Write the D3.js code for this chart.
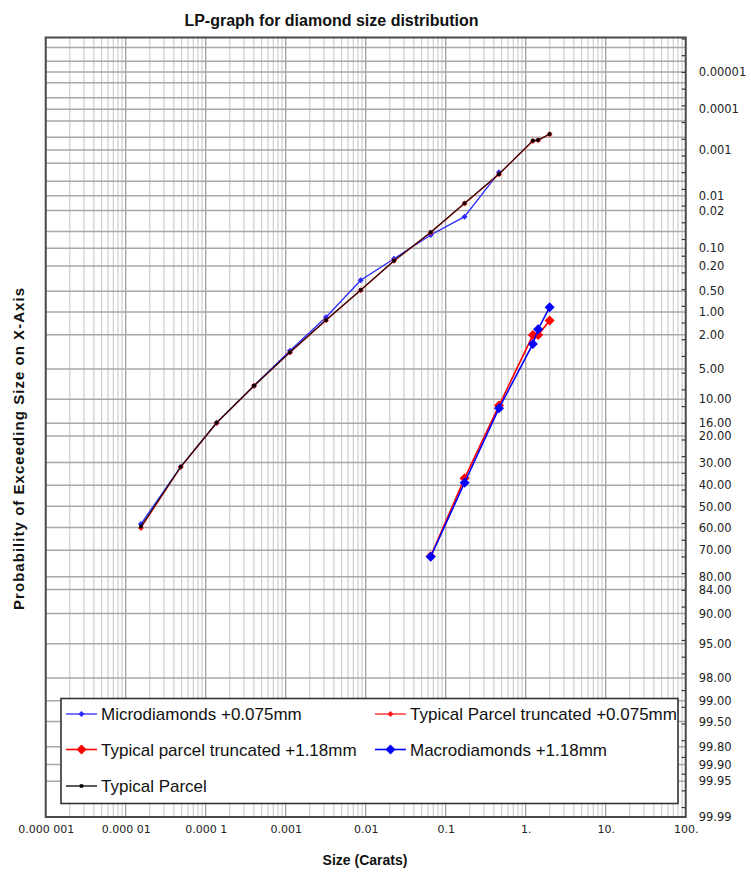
<!DOCTYPE html>
<html>
<head>
<meta charset="utf-8">
<script src="https://cdn.jsdelivr.net/npm/d3@7"></script>
<style>
html,body{margin:0;padding:0;background:#fff;}
svg{display:block;}
</style>
</head>
<body>
<script>
// ---------------- DATA ----------------
const chartTitle = "LP-graph for diamond size distribution";
const xTitle = "Size (Carats)";
const yTitle = "Probability of Exceeding Size on X-Axis";

// sizes (carats)
const sizesFull = [1.55e-5, 4.87e-5, 1.37e-4, 4.02e-4, 1.13e-3, 3.19e-3, 8.66e-3, 0.0226, 0.0649, 0.172, 0.464, 1.23, 1.43, 1.99];
const sizesMicro = [1.55e-5, 4.87e-5, 1.37e-4, 4.02e-4, 1.13e-3, 3.19e-3, 8.66e-3, 0.0226, 0.0649, 0.172, 0.464];
const sizesMacro = [0.0649, 0.172, 0.464, 1.23, 1.43, 1.99];

// probability of exceeding (percent)
const microdiamonds = [58.4, 31.8, 15.85, 7.44, 3.13, 1.18, 0.341, 0.152, 0.058, 0.0263, 0.0032];
const typicalTrunc075 = [60.2, 31.9, 15.9, 7.46, 3.27, 1.30, 0.483, 0.165, 0.0522, 0.0144, 0.0035, 0.00061, 0.00059, 0.00042];
const typicalTrunc118 = [72.5, 36.9, 11.4, 2.02, 2.02, 1.31];
const macrodiamonds = [72.7, 38.9, 12.0, 2.60, 1.70, 0.861];
const typicalParcel = [59.6, 31.8, 15.85, 7.44, 3.26, 1.29, 0.481, 0.164, 0.0519, 0.0143, 0.00348, 0.00060, 0.00058, 0.000416];

// axis ticks
const xTickValues = [1e-6, 1e-5, 1e-4, 1e-3, 1e-2, 0.1, 1, 10, 100];
const xTickLabels = ["0.000 001", "0.000 01", "0.000 1", "0.001", "0.01", "0.1", "1.", "10.", "100."];
const yTickLabels = ["0.00001","0.0001","0.001","0.01","0.02","0.10","0.20","0.50","1.00","2.00","5.00","10.00","16.00","20.00","30.00","40.00","50.00","60.00","70.00","80.00","84.00","90.00","95.00","98.00","99.00","99.50","99.80","99.90","99.95","99.99"];
const yGridPct = [0.000002,0.000005,0.00001,0.00002,0.00005,0.0001,0.0002,0.0005,0.001,0.002,0.005,0.01,0.02,0.05,0.1,0.2,0.5,1,2,5,10,16,20,30,40,50,60,70,80,84,90,95,98,99,99.5,99.8,99.9,99.95];
const yDomainPct = [0.000001, 99.99];

const seriesNames = ["Microdiamonds +0.075mm", "Typical Parcel truncated +0.075mm", "Typical parcel truncated +1.18mm", "Macrodiamonds +1.18mm", "Typical Parcel"];
const seriesColors = ["#2a2aff", "#ff1a1a", "#ff0000", "#0000ff", "#000000"];

// ---------------- helpers ----------------
function probit(p){
  const a=[-3.969683028665376e+01,2.209460984245205e+02,-2.759285104469687e+02,1.383577518672690e+02,-3.066479806614716e+01,2.506628277459239e+00];
  const b=[-5.447609879822406e+01,1.615858368580409e+02,-1.556989798598866e+02,6.680131188771972e+01,-1.328068155288572e+01];
  const c=[-7.784894002430293e-03,-3.223964580411365e-01,-2.400758277161838e+00,-2.549732539343734e+00,4.374664141464968e+00,2.938163982698783e+00];
  const d=[7.784695709041462e-03,3.224671290700398e-01,2.445134137142996e+00,3.754408661907416e+00];
  const pl=0.02425, ph=1-pl;
  if(p<pl){const q=Math.sqrt(-2*Math.log(p));return (((((c[0]*q+c[1])*q+c[2])*q+c[3])*q+c[4])*q+c[5])/((((d[0]*q+d[1])*q+d[2])*q+d[3])*q+1);}
  if(p<=ph){const q=p-0.5,r=q*q;return (((((a[0]*r+a[1])*r+a[2])*r+a[3])*r+a[4])*r+a[5])*q/(((((b[0]*r+b[1])*r+b[2])*r+b[3])*r+b[4])*r+1);}
  const q=Math.sqrt(-2*Math.log(1-p));return -(((((c[0]*q+c[1])*q+c[2])*q+c[3])*q+c[4])*q+c[5])/((((d[0]*q+d[1])*q+d[2])*q+d[3])*q+1);
}
const zOf = pct => probit(pct/100);
const squareDiamond = {
  draw(ctx, size) {
    const r = Math.sqrt(size / 2);
    ctx.moveTo(0, -r); ctx.lineTo(r, 0); ctx.lineTo(0, r); ctx.lineTo(-r, 0); ctx.closePath();
  }
};

// ---------------- layout ----------------
const W = 751, H = 873;
const L = 45.7, R = 685.7, T = 37.5, B = 817;

const svg = d3.select("body").append("svg").attr("width", W).attr("height", H);

const x = d3.scaleLog().domain([1e-6, 100]).range([L, R]);
const yz = d3.scaleLinear().domain([zOf(yDomainPct[0]), zOf(yDomainPct[1])]).range([T, B]);
const y = pct => yz(zOf(pct));

// grid
const grid = svg.append("g");
const minorX = [];
const majorX = [];
for (let e = -6; e <= 2; e++) {
  majorX.push(Math.pow(10, e));
  if (e < 2) for (let m = 2; m <= 9; m++) minorX.push(m * Math.pow(10, e));
}
grid.selectAll(".vminor").data(minorX).join("line")
  .attr("x1", d => x(d)).attr("x2", d => x(d)).attr("y1", T).attr("y2", B)
  .attr("stroke", "#cfcfcf").attr("stroke-width", 1.2);
grid.selectAll(".vmajor").data(majorX).join("line")
  .attr("x1", d => x(d)).attr("x2", d => x(d)).attr("y1", T).attr("y2", B)
  .attr("stroke", "#9a9a9a").attr("stroke-width", 1.2);
grid.selectAll(".h").data(yGridPct).join("line")
  .attr("x1", L).attr("x2", R).attr("y1", d => y(d)).attr("y2", d => y(d))
  .attr("stroke", "#a8a8a8").attr("stroke-width", 1.5);

// right minor ticks every 0.2 in z
const zTicks = d3.range(-5.6, 3.61, 0.2);
svg.append("g").attr("transform", `translate(${R},0)`)
  .call(d3.axisRight(yz).tickValues(zTicks).tickSize(-4).tickFormat(""))
  .call(g => g.select(".domain").remove())
  .call(g => g.selectAll("line").attr("stroke", "#333").attr("stroke-width", 1.2));

// right labels
svg.append("g").attr("transform", `translate(${R},0)`)
  .call(d3.axisRight(yz).tickValues(yTickLabels.map(s => zOf(+s))).tickSize(0).tickPadding(13)
    .tickFormat((d, i) => yTickLabels[i]))
  .call(g => g.select(".domain").remove())
  .call(g => g.selectAll("text").attr("font-family", "DejaVu Sans, Verdana, sans-serif")
    .attr("font-size", 11.5).attr("fill", "#222"));

// bottom labels
svg.append("g").attr("transform", `translate(0,${B})`)
  .call(d3.axisBottom(x).tickValues(xTickValues).tickSize(0).tickPadding(8)
    .tickFormat((d, i) => xTickLabels[i]))
  .call(g => g.select(".domain").remove())
  .call(g => g.selectAll("text").attr("font-family", "DejaVu Sans, Verdana, sans-serif")
    .attr("font-size", 11).attr("fill", "#222"));

// frame
svg.append("rect").attr("x", L).attr("y", T).attr("width", R - L).attr("height", B - T)
  .attr("fill", "none").attr("stroke", "#4a4a4a").attr("stroke-width", 2);

// series
const series = [
  {name: seriesNames[0], xs: sizesMicro, ps: microdiamonds, color: seriesColors[0], lw: 1.3, ms: 18, sym: squareDiamond},
  {name: seriesNames[1], xs: sizesFull, ps: typicalTrunc075, color: seriesColors[1], lw: 1.3, ms: 18, sym: squareDiamond},
  {name: seriesNames[2], xs: sizesMacro, ps: typicalTrunc118, color: seriesColors[2], lw: 1.6, ms: 50, sym: squareDiamond},
  {name: seriesNames[3], xs: sizesMacro, ps: macrodiamonds, color: seriesColors[3], lw: 1.6, ms: 50, sym: squareDiamond},
  {name: seriesNames[4], xs: sizesFull, ps: typicalParcel, color: seriesColors[4], lw: 1.3, ms: 12, sym: d3.symbolSquare, op: 0.8}
];
const line = d3.line().x(d => x(d[0])).y(d => y(d[1]));
const plot = svg.append("g");
series.forEach(s => {
  const pts = s.xs.map((v, i) => [v, s.ps[i]]);
  const g = plot.append("g");
  g.append("path").attr("d", line(pts)).attr("fill", "none").attr("stroke", s.color)
    .attr("stroke-width", s.lw).attr("stroke-opacity", s.op || 1);
  g.selectAll("path.m").data(pts).join("path").attr("class", "m")
    .attr("transform", d => `translate(${x(d[0])},${y(d[1])})`)
    .attr("d", d3.symbol().type(s.sym).size(s.ms)).attr("fill", s.color);
});

// legend
const lg = svg.append("g");
lg.append("rect").attr("x", 61).attr("y", 698.5).attr("width", 617).attr("height", 105)
  .attr("fill", "#fff").attr("stroke", "#333").attr("stroke-width", 1.6);
const legPos = [
  {lx: 66, tx: 101, cy: 714},
  {lx: 375, tx: 410, cy: 714},
  {lx: 66, tx: 101, cy: 749.5},
  {lx: 375, tx: 410, cy: 749.5},
  {lx: 66, tx: 101, cy: 786}
];
series.forEach((s, i) => {
  const p = legPos[i];
  lg.append("line").attr("x1", p.lx).attr("x2", p.lx + 31).attr("y1", p.cy).attr("y2", p.cy)
    .attr("stroke", s.color).attr("stroke-width", s.lw);
  lg.append("path").attr("transform", `translate(${p.lx + 15.5},${p.cy})`)
    .attr("d", d3.symbol().type(s.sym).size(s.ms)).attr("fill", s.color);
  lg.append("text").attr("x", p.tx).attr("y", p.cy).attr("dy", "0.36em")
    .attr("font-family", "Liberation Sans, Arial, sans-serif").attr("font-size", 17)
    .attr("fill", "#111").text(s.name);
});

// titles
svg.append("text").attr("x", 331.5).attr("y", 26).attr("text-anchor", "middle")
  .attr("font-family", "Liberation Sans, Arial, sans-serif").attr("font-size", 16).attr("font-weight", "bold")
  .attr("fill", "#111").text(chartTitle);
svg.append("text").attr("x", 365).attr("y", 865).attr("text-anchor", "middle")
  .attr("font-family", "Liberation Sans, Arial, sans-serif").attr("font-size", 14).attr("font-weight", "bold")
  .attr("fill", "#111").text(xTitle);
svg.append("text").attr("transform", "translate(24,449) rotate(-90)").attr("text-anchor", "middle")
  .attr("font-family", "Liberation Sans, Arial, sans-serif").attr("font-size", 15).attr("font-weight", "bold")
  .attr("textLength", 322).attr("lengthAdjust", "spacing")
  .attr("fill", "#111").text(yTitle);
</script>
</body>
</html>
